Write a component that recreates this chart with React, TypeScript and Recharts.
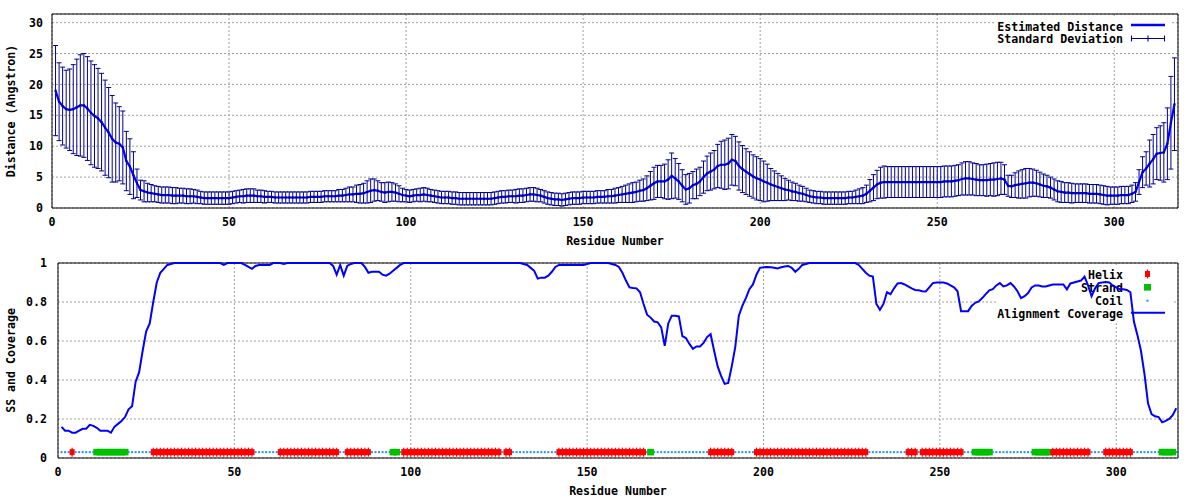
import React from 'react';
import { CartesianGrid, ComposedChart, ErrorBar, Line, XAxis, YAxis } from 'recharts';

const W = 1200;
const H = 250;
const FONT = '"DejaVu Sans Mono", "Liberation Mono", monospace';
const TEXT = { fill: '#000', fontSize: 11.6, fontFamily: FONT, fontWeight: 700 };

const BLUE = '#0000ff';
const NAVY = '#000090';
const RED = '#ff0000';
const GREEN = '#00c000';
const COIL = '#1e90ff';

// per-residue estimated distance (residues 1..317)
const DISTANCE = [
  19.0, 17.2, 16.5, 16.0, 15.9, 16.0, 16.3, 16.6, 16.6, 16.1,
  15.4, 14.9, 14.5, 13.9, 13.0, 12.2, 11.2, 10.6, 10.4, 9.8,
  7.6, 6.7, 5.3, 4.0, 2.9, 2.7, 2.5, 2.4, 2.3, 2.2,
  2.1, 2.1, 2.1, 2.0, 2.0, 2.0, 2.0, 1.9, 1.9, 1.9,
  1.8, 1.7, 1.6, 1.6, 1.6, 1.6, 1.6, 1.6, 1.6, 1.6,
  1.7, 1.8, 1.9, 1.9, 2.0, 2.0, 2.0, 1.9, 1.9, 1.8,
  1.8, 1.8, 1.7, 1.7, 1.7, 1.7, 1.7, 1.7, 1.7, 1.7,
  1.7, 1.7, 1.8, 1.8, 1.8, 1.8, 1.9, 1.9, 1.9, 1.9,
  2.0, 2.0, 2.1, 2.2, 2.2, 2.3, 2.3, 2.4, 2.6, 2.8,
  2.9, 2.8, 2.6, 2.5, 2.6, 2.6, 2.5, 2.3, 2.1, 2.0,
  1.9, 2.0, 2.1, 2.1, 2.2, 2.1, 2.0, 1.9, 1.8, 1.7,
  1.7, 1.7, 1.6, 1.6, 1.5, 1.5, 1.5, 1.5, 1.5, 1.5,
  1.5, 1.5, 1.5, 1.5, 1.6, 1.7, 1.8, 1.8, 1.9, 1.9,
  1.9, 2.0, 2.0, 2.1, 2.2, 2.2, 2.1, 2.0, 1.8, 1.6,
  1.5, 1.4, 1.4, 1.3, 1.4, 1.5, 1.6, 1.6, 1.6, 1.7,
  1.7, 1.7, 1.7, 1.8, 1.8, 1.8, 1.9, 1.9, 2.0, 2.1,
  2.2, 2.3, 2.4, 2.5, 2.6, 2.8, 2.9, 3.2, 3.6, 4.0,
  4.3, 4.3, 4.3, 4.6, 5.2, 4.8, 4.3, 3.6, 3.0, 3.2,
  3.7, 3.9, 4.3, 5.0, 5.6, 5.9, 6.2, 6.8, 7.0, 7.0,
  7.2, 7.8, 7.6, 6.8, 6.3, 5.9, 5.5, 5.1, 4.8, 4.6,
  4.3, 4.1, 3.8, 3.6, 3.4, 3.2, 3.0, 2.9, 2.7, 2.6,
  2.4, 2.3, 2.1, 1.9, 1.8, 1.7, 1.7, 1.6, 1.6, 1.6,
  1.6, 1.6, 1.6, 1.6, 1.7, 1.7, 1.8, 1.9, 2.0, 2.3,
  2.8, 3.3, 3.8, 4.1, 4.2, 4.2, 4.2, 4.2, 4.2, 4.2,
  4.2, 4.2, 4.2, 4.2, 4.2, 4.2, 4.2, 4.2, 4.2, 4.2,
  4.2, 4.3, 4.3, 4.3, 4.4, 4.5, 4.7, 4.8, 4.8, 4.7,
  4.6, 4.5, 4.5, 4.5, 4.6, 4.6, 4.7, 4.8, 4.6, 3.6,
  3.5, 3.7, 3.8, 3.9, 4.0, 4.1, 4.1, 4.0, 3.8, 3.6,
  3.5, 3.3, 3.0, 2.7, 2.6, 2.5, 2.5, 2.4, 2.4, 2.4,
  2.4, 2.4, 2.3, 2.3, 2.3, 2.2, 2.1, 2.0, 2.0, 2.0,
  2.0, 2.1, 2.1, 2.1, 2.3, 2.6, 4.2, 5.8, 6.4, 7.2,
  7.9, 8.8, 8.9, 9.0, 10.4, 13.8, 16.8,
];

const STD_DEV = [
  7.3, 6.3, 6.3, 6.3, 6.6, 7.2, 7.8, 8.2, 8.4, 8.4,
  8.4, 8.3, 8.1, 7.9, 7.7, 7.3, 7.0, 6.4, 6.0, 5.9,
  4.8, 4.5, 3.8, 2.3, 1.6, 1.7, 1.5, 1.4, 1.3, 1.3,
  1.3, 1.3, 1.3, 1.3, 1.3, 1.2, 1.2, 1.2, 1.2, 1.1,
  1.1, 1.0, 1.0, 1.0, 1.0, 1.0, 1.0, 1.0, 1.0, 1.0,
  1.0, 1.0, 1.0, 1.1, 1.1, 1.1, 1.1, 1.0, 1.0, 1.0,
  0.9, 0.9, 0.9, 0.9, 0.9, 0.9, 0.9, 0.9, 0.9, 0.9,
  0.9, 0.9, 0.9, 0.9, 0.9, 0.9, 0.9, 0.9, 0.9, 0.9,
  1.0, 1.0, 1.1, 1.2, 1.2, 1.4, 1.5, 1.6, 1.8, 1.9,
  1.8, 1.6, 1.5, 1.6, 1.6, 1.5, 1.4, 1.3, 1.1, 1.0,
  1.0, 1.0, 1.0, 1.1, 1.1, 1.1, 1.0, 1.0, 1.0, 1.0,
  1.0, 1.0, 1.0, 1.0, 1.0, 1.0, 1.0, 1.0, 1.0, 1.0,
  1.0, 1.0, 1.0, 1.0, 1.0, 1.0, 1.0, 1.0, 1.0, 1.0,
  1.1, 1.1, 1.1, 1.1, 1.1, 1.1, 1.1, 1.0, 1.0, 1.0,
  1.0, 1.0, 1.0, 1.0, 1.0, 1.0, 1.0, 1.0, 1.0, 1.0,
  1.0, 1.0, 1.0, 1.0, 1.0, 1.0, 1.1, 1.1, 1.2, 1.2,
  1.3, 1.4, 1.5, 1.6, 1.6, 1.7, 1.8, 2.0, 2.3, 2.6,
  2.6, 2.6, 2.8, 3.2, 3.7, 3.2, 2.9, 2.6, 2.4, 2.4,
  2.2, 2.4, 2.3, 2.6, 2.8, 3.0, 3.1, 3.5, 3.8, 4.0,
  4.1, 4.1, 4.0, 3.9, 3.8, 3.7, 3.6, 3.5, 3.5, 3.4,
  3.3, 3.0, 2.6, 2.4, 2.2, 2.0, 1.8, 1.6, 1.5, 1.4,
  1.3, 1.2, 1.1, 1.0, 1.0, 1.0, 1.0, 1.0, 1.0, 1.0,
  1.0, 1.0, 1.0, 1.0, 1.0, 1.0, 1.1, 1.2, 1.3, 1.4,
  1.8, 2.1, 2.3, 2.5, 2.6, 2.5, 2.5, 2.5, 2.5, 2.5,
  2.5, 2.5, 2.5, 2.5, 2.5, 2.5, 2.5, 2.5, 2.5, 2.5,
  2.5, 2.5, 2.5, 2.5, 2.5, 2.5, 2.6, 2.7, 2.7, 2.6,
  2.6, 2.5, 2.5, 2.6, 2.6, 2.7, 2.7, 2.6, 2.4, 1.7,
  1.8, 2.0, 2.2, 2.3, 2.4, 2.3, 2.2, 2.1, 2.0, 1.9,
  1.8, 1.7, 1.7, 1.7, 1.7, 1.6, 1.6, 1.6, 1.5, 1.5,
  1.5, 1.5, 1.5, 1.5, 1.5, 1.5, 1.5, 1.5, 1.4, 1.4,
  1.4, 1.4, 1.4, 1.4, 1.4, 1.5, 2.0, 2.5, 2.7, 3.8,
  4.0, 4.2, 4.4, 4.8, 5.8, 7.5, 7.5,
];

// alignment coverage per residue (1..317)
const COVERAGE = [
  0.16, 0.14, 0.14, 0.13, 0.13, 0.14, 0.15, 0.15, 0.17, 0.165,
  0.155, 0.14, 0.14, 0.14, 0.13, 0.16, 0.175, 0.19, 0.21, 0.25,
  0.265, 0.39, 0.44, 0.55, 0.65, 0.69, 0.8, 0.9, 0.95, 0.97,
  0.99, 0.995, 1, 1, 1, 1, 1, 1, 1, 1,
  1, 1, 1, 1, 1, 1, 0.99, 1, 1, 1,
  1, 1, 0.99, 0.98, 0.97, 0.985, 0.99, 0.99, 0.99, 0.99,
  1, 1, 1, 0.995, 1, 1, 1, 1, 1, 1,
  1, 1, 1, 1, 1, 1, 1, 0.985, 0.94, 0.99,
  0.935, 0.985, 0.995, 1, 1, 1, 0.98, 0.95, 0.955, 0.955,
  0.955, 0.94, 0.935, 0.945, 0.96, 0.975, 0.99, 1, 1, 1,
  1, 1, 1, 1, 1, 1, 1, 1, 1, 1,
  1, 1, 1, 1, 1, 1, 1, 1, 1, 1,
  1, 1, 1, 1, 1, 1, 1, 1, 1, 1,
  1, 0.995, 0.99, 0.975, 0.96, 0.92, 0.925, 0.925, 0.935, 0.955,
  0.98, 0.99, 0.99, 0.99, 0.99, 0.99, 0.99, 0.99, 0.99, 0.995,
  1, 1, 1, 1, 1, 1, 0.995, 0.99, 0.98, 0.95,
  0.91, 0.875, 0.872, 0.87, 0.85, 0.79, 0.735, 0.72, 0.7, 0.696,
  0.67, 0.575, 0.69, 0.73, 0.73, 0.726, 0.625, 0.615, 0.585, 0.56,
  0.572, 0.572, 0.59, 0.62, 0.635, 0.55, 0.47, 0.42, 0.38, 0.385,
  0.47, 0.57, 0.73, 0.78, 0.82, 0.866, 0.89, 0.94, 0.975, 0.978,
  0.979, 0.978, 0.976, 0.972, 0.978, 0.982, 0.985, 0.975, 0.955, 0.97,
  0.99, 0.995, 1, 1, 1, 1, 1, 1, 1, 1,
  1, 1, 1, 1, 1, 1, 0.99, 0.97, 0.95, 0.935,
  0.93, 0.79, 0.76, 0.79, 0.85, 0.84, 0.87, 0.895, 0.897, 0.89,
  0.88, 0.87, 0.862, 0.86, 0.855, 0.854, 0.875, 0.897, 0.9, 0.9,
  0.9, 0.895, 0.885, 0.875, 0.855, 0.753, 0.753, 0.753, 0.78, 0.796,
  0.803, 0.82, 0.84, 0.86, 0.866, 0.885, 0.897, 0.88, 0.885, 0.897,
  0.88, 0.855, 0.82, 0.83, 0.846, 0.875, 0.885, 0.885, 0.88, 0.88,
  0.885, 0.89, 0.89, 0.89, 0.89, 0.865, 0.895, 0.9, 0.905, 0.91,
  0.93, 0.885, 0.83, 0.87, 0.897, 0.9, 0.902, 0.9, 0.885, 0.875,
  0.865, 0.865, 0.862, 0.85, 0.7, 0.63, 0.55, 0.43, 0.28, 0.225,
  0.214, 0.21, 0.183, 0.19, 0.2, 0.22, 0.255,
];

// secondary structure segments [first, last] residue
const HELIX = [
  [4, 4], [27, 55], [63, 79], [82, 88], [98, 125], [127, 128], [142, 166],
  [185, 191], [198, 229], [241, 243], [245, 256], [282, 292], [297, 304],
];
const STRAND = [[11, 19], [95, 96], [168, 168], [260, 264], [277, 281], [313, 316]];
const SS_LEVEL = 0.03;

const X_TICKS = [0, 50, 100, 150, 200, 250, 300];
const DIST_TICKS = [0, 5, 10, 15, 20, 25, 30];
const COV_TICKS = [0, 0.2, 0.4, 0.6, 0.8, 1];
const TOP_X = [0, 318];
const BOT_X = [0, 317.5];
const DIST_Y = [0, 31.4];
const COV_Y = [0, 1];

const TOP_NAMES = ['Estimated Distance', 'Standard Deviation'];
const BOT_NAMES = ['Helix', 'Strand', 'Coil', 'Alignment Coverage'];

const inSeg = (segs: number[][], r: number) => segs.some(([a, b]) => r >= a && r <= b);

const distRows = DISTANCE.map((d, i) => ({ res: i + 1, dist: d, std: STD_DEV[i] }));

const covRows = COVERAGE.map((c, i) => {
  const res = i + 1;
  const h = inSeg(HELIX, res);
  const s = !h && inSeg(STRAND, res);
  return {
    res,
    cov: c,
    helix: h ? SS_LEVEL : null,
    strand: s ? SS_LEVEL : null,
    coil: !h && !s ? SS_LEVEL : null,
  };
});

// axes, border ticks and grid, gnuplot style (ticks pointing inward on all 4 sides)
const frame = (
  xDomain: number[],
  yDomain: number[],
  yTicks: number[],
  yWidth: number,
  yMargin: number,
  xLabel: string,
  yLabel: string,
) => {
  const xs = { type: 'number' as const, dataKey: 'res', domain: xDomain, ticks: X_TICKS, allowDataOverflow: true, interval: 0 as const };
  const ys = { type: 'number' as const, domain: yDomain, ticks: yTicks, allowDataOverflow: true, interval: 0 as const };
  const edge = { tick: false, tickSize: 6, tickLine: { stroke: '#000' }, axisLine: { stroke: '#000' }, mirror: true };
  return [
    <CartesianGrid key="grid" xAxisId="lab" yAxisId="lab" stroke="#a0a0a0" strokeDasharray="2 2" />,
    <XAxis
      key="xlab"
      xAxisId="lab"
      {...xs}
      height={42}
      axisLine={false}
      tickLine={false}
      tickSize={6}
      tickMargin={4}
      tick={TEXT}
      label={{ value: xLabel, position: 'insideBottom', offset: 5, style: TEXT }}
    />,
    <XAxis key="xbot" xAxisId="bot" {...xs} {...edge} />,
    <XAxis key="xtop" xAxisId="top" orientation="top" {...xs} {...edge} />,
    <YAxis
      key="ylab"
      yAxisId="lab"
      {...ys}
      width={yWidth}
      axisLine={false}
      tickLine={false}
      tickSize={6}
      tickMargin={yMargin}
      tick={TEXT}
      label={{ value: yLabel, angle: -90, position: 'insideLeft', offset: 10.5, style: { ...TEXT, textAnchor: 'middle' } }}
    />,
    <YAxis key="yleft" yAxisId="left" {...ys} {...edge} />,
    <YAxis key="yright" yAxisId="right" orientation="right" {...ys} {...edge} />,
  ];
};

const navyDot = (p: any) => (
  <rect key={`n${p.index}`} x={p.cx - 1} y={p.cy - 1} width={2} height={2} fill={NAVY} />
);

const ssDot = (kind: string) => (p: any) => {
  const key = `${kind}${p.index}`;
  if (p.value == null || p.cy == null || Number.isNaN(p.cy)) return <g key={key} />;
  if (kind === 'helix') {
    return (
      <g key={key}>
        <rect x={p.cx - 2.5} y={p.cy - 3} width={5} height={6} fill={RED} />
        <line x1={p.cx} x2={p.cx} y1={p.cy - 4.5} y2={p.cy + 4.5} stroke={RED} strokeWidth={1.2} />
      </g>
    );
  }
  if (kind === 'strand') {
    return <rect key={key} x={p.cx - 3.5} y={p.cy - 3.3} width={7} height={6.6} fill={GREEN} />;
  }
  return <rect key={key} x={p.cx - 1} y={p.cy - 1} width={2} height={2} fill={COIL} />;
};

const layer: React.CSSProperties = { position: 'absolute', left: 0, top: 0 };

const DistanceKey = () => (
  <svg width={W} height={H} style={layer}>
    <rect x={994} y={17} width={178} height={30} fill="#fff" />
    <text x={1123} y={30.5} textAnchor="end" {...TEXT}>{TOP_NAMES[0]}</text>
    <line x1={1131} x2={1165} y1={25} y2={25} stroke={BLUE} strokeWidth={2.5} />
    <text x={1123} y={43.3} textAnchor="end" {...TEXT}>{TOP_NAMES[1]}</text>
    <g stroke={NAVY} strokeWidth={1.1}>
      <line x1={1131} x2={1165} y1={38.5} y2={38.5} />
      <line x1={1131.5} x2={1131.5} y1={35.5} y2={41.5} />
      <line x1={1148} x2={1148} y1={35.5} y2={41.5} />
      <line x1={1164.5} x2={1164.5} y1={35.5} y2={41.5} />
    </g>
  </svg>
);

const CoverageKey = () => (
  <svg width={W} height={H} style={layer}>
    <rect x={997} y={15} width={175} height={56} fill="#fff" />
    <text x={1123} y={29.3} textAnchor="end" {...TEXT}>{BOT_NAMES[0]}</text>
    <rect x={1145} y={21} width={5} height={6} fill={RED} />
    <line x1={1147.5} x2={1147.5} y1={19.5} y2={28.5} stroke={RED} strokeWidth={1.2} />
    <text x={1123} y={42.3} textAnchor="end" {...TEXT}>{BOT_NAMES[1]}</text>
    <rect x={1144} y={34} width={7} height={6.6} fill={GREEN} />
    <text x={1123} y={55.3} textAnchor="end" {...TEXT}>{BOT_NAMES[2]}</text>
    <rect x={1146.5} y={49.7} width={2} height={2} fill={COIL} />
    <text x={1123} y={68.3} textAnchor="end" {...TEXT}>{BOT_NAMES[3]}</text>
    <line x1={1131} x2={1165} y1={62.7} y2={62.7} stroke={BLUE} strokeWidth={2} />
  </svg>
);

const DistancePanel = () => (
  <div style={{ position: 'absolute', left: 0, top: 0, width: W, height: H }}>
    <div style={layer}>
      <ComposedChart width={W} height={H} data={distRows} margin={{ top: 14, right: 22, bottom: 0, left: 0 }}>
        {frame(TOP_X, DIST_Y, DIST_TICKS, 52, 3, 'Residue Number', 'Distance (Angstron)')}
      </ComposedChart>
    </div>
    <DistanceKey />
    <div style={layer}>
      <ComposedChart width={W} height={H} data={distRows} margin={{ top: 14, right: 22, bottom: 42, left: 52 }}>
        <XAxis dataKey="res" type="number" domain={TOP_X} hide />
        <YAxis type="number" domain={DIST_Y} hide />
        <Line dataKey="dist" stroke="none" dot={navyDot} activeDot={false} isAnimationActive={false}>
          <ErrorBar dataKey="std" width={2.5} stroke={NAVY} strokeWidth={1} direction="y" isAnimationActive={false} />
        </Line>
        <Line dataKey="dist" stroke={BLUE} strokeWidth={2.2} dot={false} activeDot={false} isAnimationActive={false} />
      </ComposedChart>
    </div>
  </div>
);

const CoveragePanel = () => (
  <div style={{ position: 'absolute', left: 0, top: H, width: W, height: H }}>
    <div style={layer}>
      <ComposedChart width={W} height={H} data={covRows} margin={{ top: 13, right: 22, bottom: 0, left: 0 }}>
        {frame(BOT_X, COV_Y, COV_TICKS, 58, 5, 'Residue Number', 'SS and Coverage')}
      </ComposedChart>
    </div>
    <CoverageKey />
    <div style={layer}>
      <ComposedChart width={W} height={H} data={covRows} margin={{ top: 13, right: 22, bottom: 42, left: 58 }}>
        <XAxis dataKey="res" type="number" domain={BOT_X} hide />
        <YAxis type="number" domain={COV_Y} hide />
        <Line dataKey="coil" stroke="none" dot={ssDot('coil')} activeDot={false} isAnimationActive={false} />
        <Line dataKey="strand" stroke="none" dot={ssDot('strand')} activeDot={false} isAnimationActive={false} />
        <Line dataKey="helix" stroke="none" dot={ssDot('helix')} activeDot={false} isAnimationActive={false} />
        <Line dataKey="cov" stroke={BLUE} strokeWidth={2} dot={false} activeDot={false} isAnimationActive={false} />
      </ComposedChart>
    </div>
  </div>
);

export default function App() {
  return (
    <div style={{ position: 'fixed', left: 0, top: 0, width: W, height: 2 * H, background: '#fff' }}>
      <DistancePanel />
      <CoveragePanel />
    </div>
  );
}
